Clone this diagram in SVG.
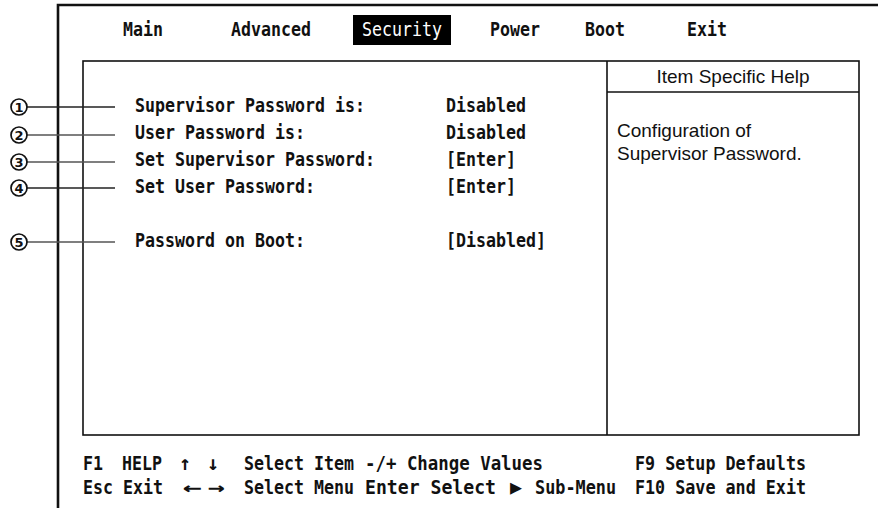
<svg xmlns="http://www.w3.org/2000/svg" width="878" height="508" viewBox="0 0 878 508">
<style>
.m{font-family:"DejaVu Sans Mono","Liberation Mono",monospace;font-size:20px;font-weight:bold;fill:#111}
.w{fill:#fff;font-weight:normal}
.s{font-family:"Liberation Sans",Arial,sans-serif;font-size:19px;fill:#111}
.d{font-family:"DejaVu Sans","Liberation Sans",sans-serif;font-size:13px;font-weight:bold;fill:#111;text-anchor:middle}
.ln{stroke:#222;stroke-width:1.4;fill:none}
.g{stroke:#555}
.fr{stroke:#111;fill:none}
.c{stroke:#111;stroke-width:1.7;fill:#fff}
</style>
<rect width="878" height="508" fill="#fff"/>
<g id="frame">
<path class="fr" stroke-width="2.6" d="M58,508 V5 H878"/>
<rect class="fr" stroke-width="1.6" x="83" y="61" width="776" height="374"/>
<line class="fr" stroke-width="1.6" x1="607" y1="61" x2="607" y2="435"/>
<line class="fr" stroke-width="1.6" x1="607" y1="92" x2="859" y2="92"/>
</g>
<g id="tabs">
<text class="m" x="123" y="36" textLength="40" lengthAdjust="spacingAndGlyphs">Main</text>
<text class="m" x="231" y="36" textLength="80" lengthAdjust="spacingAndGlyphs">Advanced</text>
<rect x="353" y="15" width="98" height="30" fill="#000"/>
<text class="m w" x="362" y="36" textLength="80" lengthAdjust="spacingAndGlyphs">Security</text>
<text class="m" x="490" y="36" textLength="50" lengthAdjust="spacingAndGlyphs">Power</text>
<text class="m" x="585" y="36" textLength="40" lengthAdjust="spacingAndGlyphs">Boot</text>
<text class="m" x="687" y="36" textLength="40" lengthAdjust="spacingAndGlyphs">Exit</text>
</g>
<g id="item1">
<text class="m" x="135" y="112" textLength="230" lengthAdjust="spacingAndGlyphs">Supervisor Password is:</text>
<text class="m" x="446" y="112" textLength="80" lengthAdjust="spacingAndGlyphs">Disabled</text>
</g>
<g id="item2">
<text class="m" x="135" y="139" textLength="170" lengthAdjust="spacingAndGlyphs">User Password is:</text>
<text class="m" x="446" y="139" textLength="80" lengthAdjust="spacingAndGlyphs">Disabled</text>
</g>
<g id="item3">
<text class="m" x="135" y="166" textLength="240" lengthAdjust="spacingAndGlyphs">Set Supervisor Password:</text>
<text class="m" x="446" y="166" textLength="70" lengthAdjust="spacingAndGlyphs">[Enter]</text>
</g>
<g id="item4">
<text class="m" x="135" y="193" textLength="180" lengthAdjust="spacingAndGlyphs">Set User Password:</text>
<text class="m" x="446" y="193" textLength="70" lengthAdjust="spacingAndGlyphs">[Enter]</text>
</g>
<g id="item5">
<text class="m" x="135" y="247" textLength="170" lengthAdjust="spacingAndGlyphs">Password on Boot:</text>
<text class="m" x="446" y="247" textLength="100" lengthAdjust="spacingAndGlyphs">[Disabled]</text>
</g>
<g id="help">
<text class="s" x="733" y="83" text-anchor="middle">Item Specific Help</text>
<text class="s" x="617" y="137">Configuration of</text>
<text class="s" x="617" y="160">Supervisor Password.</text>
</g>
<g id="footer">
<text class="m" x="83" y="470" textLength="20" lengthAdjust="spacingAndGlyphs">F1</text>
<text class="m" x="122" y="470" textLength="40" lengthAdjust="spacingAndGlyphs">HELP</text>
<text class="m" x="185" y="470" text-anchor="middle">↑</text>
<text class="m" x="213" y="470" text-anchor="middle">↓</text>
<text class="m" x="244" y="470" textLength="110" lengthAdjust="spacingAndGlyphs">Select Item</text>
<text class="m" x="365" y="470" textLength="178" lengthAdjust="spacingAndGlyphs">-/+ Change Values</text>
<text class="m" x="635" y="470" textLength="171" lengthAdjust="spacingAndGlyphs">F9 Setup Defaults</text>
<text class="m" x="83" y="494" textLength="30" lengthAdjust="spacingAndGlyphs">Esc</text>
<text class="m" x="123" y="494" textLength="40" lengthAdjust="spacingAndGlyphs">Exit</text>
<text class="m" x="192" y="494" text-anchor="middle" textLength="19" lengthAdjust="spacingAndGlyphs">←</text>
<text class="m" x="216" y="494" text-anchor="middle" textLength="17" lengthAdjust="spacingAndGlyphs">→</text>
<text class="m" x="244" y="494" textLength="110" lengthAdjust="spacingAndGlyphs">Select Menu</text>
<text class="m" x="365" y="494" textLength="131" lengthAdjust="spacingAndGlyphs">Enter Select</text>
<text class="m" x="516" y="494" text-anchor="middle">▶</text>
<text class="m" x="535" y="494" textLength="81" lengthAdjust="spacingAndGlyphs">Sub-Menu</text>
<text class="m" x="635" y="494" textLength="171" lengthAdjust="spacingAndGlyphs">F10 Save and Exit</text>
</g>
<g id="connectors">
<line class="ln" x1="27" y1="107" x2="115" y2="107"/>
<line class="ln g" x1="27" y1="135" x2="115" y2="135"/>
<line class="ln g" x1="27" y1="162" x2="115" y2="162"/>
<line class="ln" x1="27" y1="188" x2="115" y2="188"/>
<line class="ln g" x1="27" y1="242" x2="115" y2="242"/>
</g>
<g id="callout1"><circle class="c" cx="19" cy="107" r="8"/><text class="d" x="19" y="112">1</text></g>
<g id="callout2"><circle class="c" cx="19" cy="135" r="8"/><text class="d" x="19" y="140">2</text></g>
<g id="callout3"><circle class="c" cx="19" cy="162" r="8"/><text class="d" x="19" y="167">3</text></g>
<g id="callout4"><circle class="c" cx="19" cy="188" r="8"/><text class="d" x="19" y="193">4</text></g>
<g id="callout5"><circle class="c" cx="19" cy="242" r="8"/><text class="d" x="19" y="247">5</text></g>
</svg>
